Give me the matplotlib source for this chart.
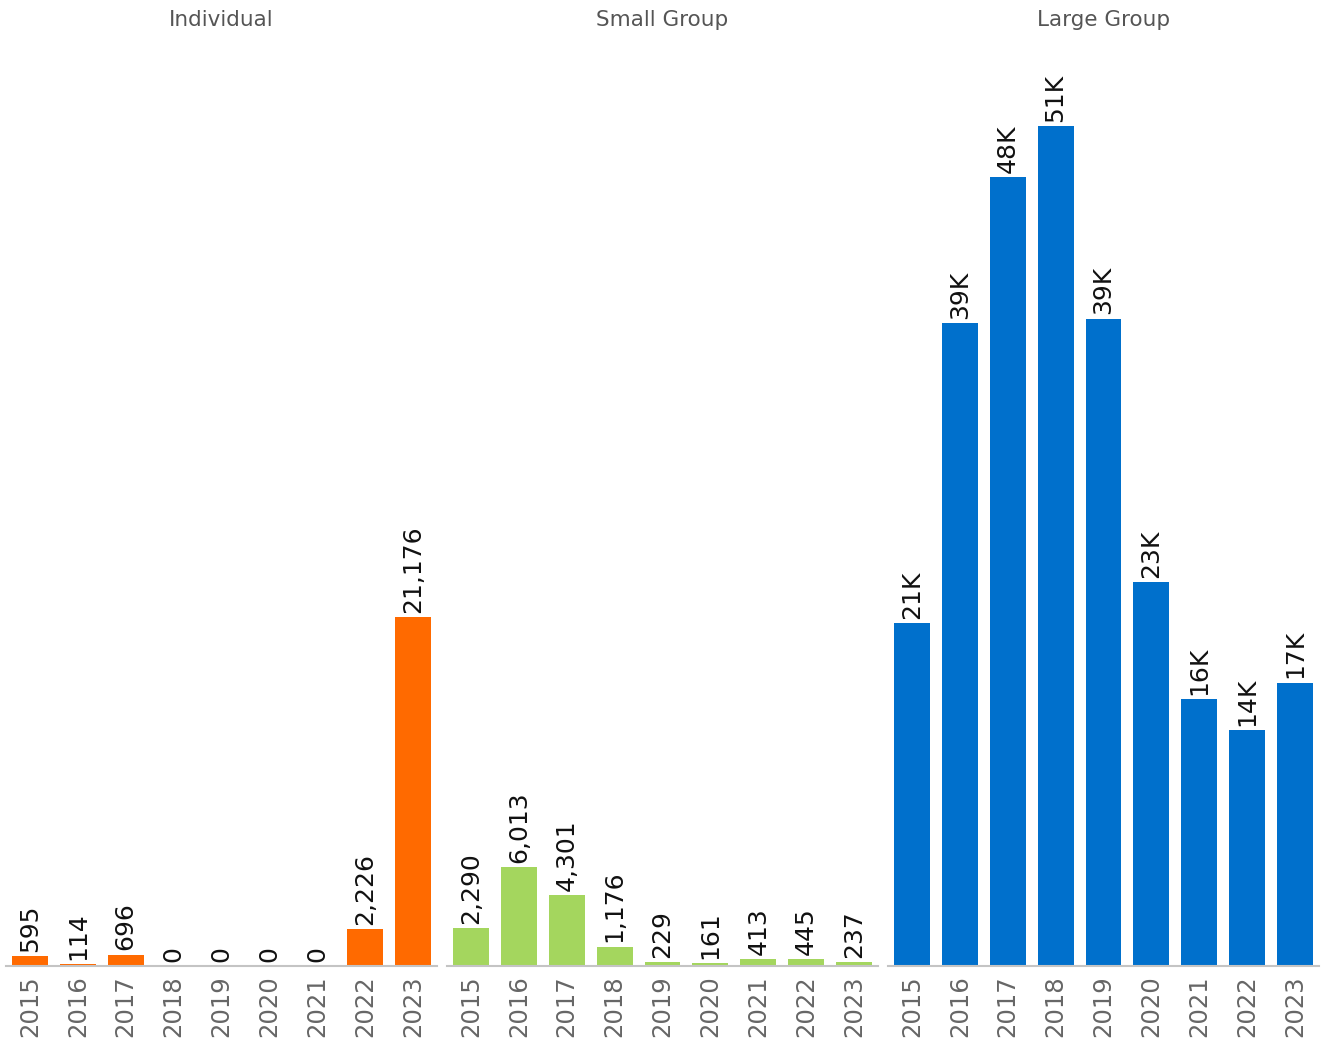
import matplotlib
matplotlib.use('Agg')
import matplotlib.pyplot as plt

years = ['2015', '2016', '2017', '2018', '2019', '2020', '2021', '2022', '2023']
panels = ['Individual', 'Small Group', 'Large Group']

individual = [595, 114, 696, 0, 0, 0, 0, 2226, 21176]
small_group = [2290, 6013, 4301, 1176, 229, 161, 413, 445, 237]
large_group = [20800, 39000, 47900, 51000, 39300, 23300, 16200, 14300, 17200]

colors = ['#FF6A00', '#A4D65E', '#0070CC']

W, H = 1324, 1043
fig = plt.figure(figsize=(W / 100, H / 100), dpi=100)

lefts = [6, 447, 888]
pw = 431
bottom_px, top_px = 966, 50
ymax = (bottom_px - top_px) * 60.7

def fmt_comma(v):
    return f'{v:,}'

def fmt_k(v):
    return f'{round(v / 1000)}K'

series = [individual, small_group, large_group]
fmts = [fmt_comma, fmt_comma, fmt_k]

for i in range(3):
    ax = fig.add_axes([lefts[i] / W, (H - bottom_px) / H, pw / W, (bottom_px - top_px) / H])
    x = range(len(years))
    ax.bar(x, series[i], width=0.75, color=colors[i], zorder=2)
    ax.set_xlim(-0.5, 8.5)
    ax.set_ylim(0, ymax)
    for s in ax.spines.values():
        s.set_visible(False)
    ax.spines['bottom'].set_visible(True)
    ax.spines['bottom'].set_color('#c4c4c4')
    ax.spines['bottom'].set_linewidth(1.5)
    ax.spines['bottom'].set_zorder(3)
    ax.set_yticks([])
    ax.set_xticks(list(x))
    ax.set_xticklabels(years, rotation=90, fontsize=17.5, color='#666666')
    ax.tick_params(axis='x', length=0, pad=7)
    for xi, v in zip(x, series[i]):
        ax.annotate(fmts[i](v), (xi, v), xytext=(0, 3), textcoords='offset points',
                    rotation=90, ha='center', va='bottom', fontsize=18, color='#111111')
    fig.text((lefts[i] + pw / 2) / W, (H - 20) / H, panels[i], ha='center', va='center',
             fontsize=15.5, color='#555555')

fig.savefig('out.png', dpi=100)
